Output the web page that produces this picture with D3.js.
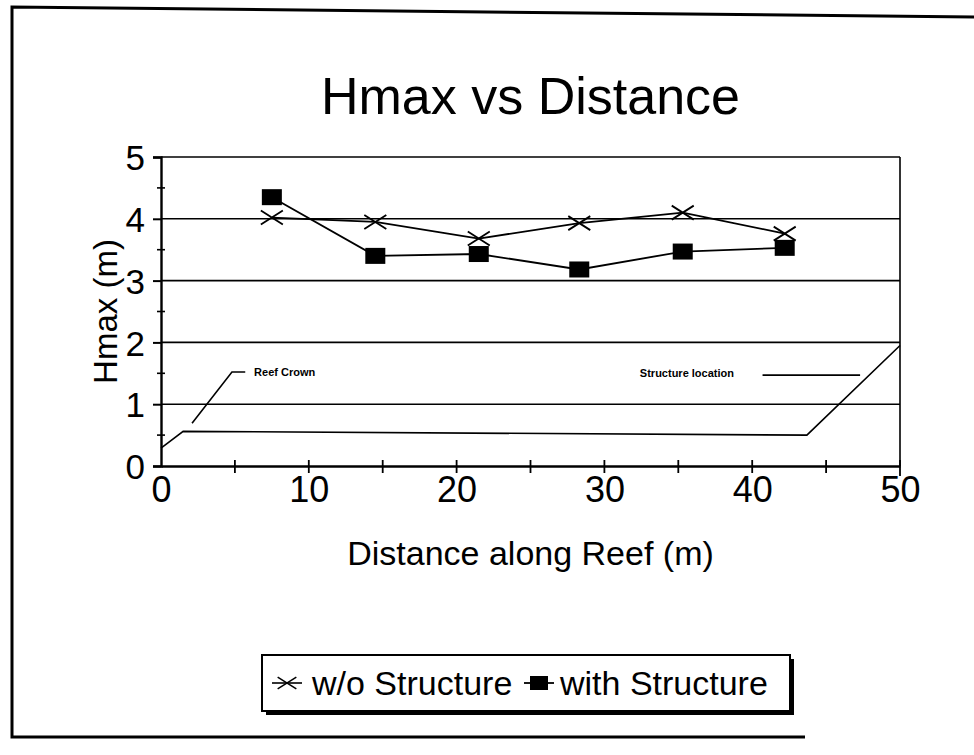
<!DOCTYPE html>
<html>
<head>
<meta charset="utf-8">
<script src="https://cdn.jsdelivr.net/npm/d3@7"></script>
<style>
  body { margin: 0; background: #fff; }
  text { font-family: "Liberation Sans", Arial, sans-serif; fill: #000; }
</style>
</head>
<body>
<div id="chart"></div>
<script>
// distance along reef (m)
var distance = [7.5, 14.5, 21.5, 28.3, 35.3, 42.2];
// Hmax (m)
var withoutStructure = [4.02, 3.95, 3.68, 3.93, 4.10, 3.76];
var withStructure = [4.35, 3.40, 3.43, 3.18, 3.47, 3.53];
// reef profile sketch (distance, height)
var reefX = [0, 1.5, 43.7, 50];
var reefY = [0.29, 0.56, 0.5, 1.95];
var xTicks = [0, 10, 20, 30, 40, 50];
var yTicks = [0, 1, 2, 3, 4, 5];

var W = 974, H = 755;
var mLeft = 161, mRight = 900, mTop = 157, mBottom = 466;

var svg = d3.select('#chart').append('svg')
    .attr('width', W)
    .attr('height', H);

// outer frame (open on the right side, like the scan)
svg.append('path')
    .attr('d', 'M974,17 L12,7 L12,737 L805,737')
    .attr('fill', 'none')
    .attr('stroke', '#000')
    .attr('stroke-width', 3);

var x = d3.scaleLinear().domain([0, 50]).range([mLeft, mRight]);
var y = d3.scaleLinear().domain([0, 5]).range([mBottom, mTop]);

// gridlines
svg.selectAll('.grid')
    .data(yTicks.slice(1))
    .enter()
    .append('line')
    .attr('x1', mLeft)
    .attr('x2', mRight)
    .attr('y1', function (d) { return y(d); })
    .attr('y2', function (d) { return y(d); })
    .attr('stroke', '#000')
    .attr('stroke-width', 1.6);

// right border
svg.append('line')
    .attr('x1', mRight).attr('x2', mRight)
    .attr('y1', mTop).attr('y2', mBottom)
    .attr('stroke', '#000').attr('stroke-width', 1.6);

// y axis
var yAxis = d3.axisLeft(y).tickValues(yTicks).tickFormat(d3.format('d')).tickSize(8).tickPadding(8);
var gy = svg.append('g')
    .attr('transform', 'translate(' + mLeft + ',0)')
    .call(yAxis);
gy.select('.domain').attr('stroke-width', 2.4);
gy.selectAll('.tick line').attr('stroke-width', 2);
gy.selectAll('text')
    .attr('font-size', '35px')
    .attr('font-family', '"Liberation Sans", Arial, sans-serif')
    .attr('dy', '0.36em');

var yMinor = d3.range(0.5, 5, 1);
svg.selectAll('.yminor')
    .data(yMinor)
    .enter()
    .append('line')
    .attr('x1', mLeft - 4).attr('x2', mLeft + 4)
    .attr('y1', function (d) { return y(d); })
    .attr('y2', function (d) { return y(d); })
    .attr('stroke', '#000').attr('stroke-width', 1.6);

// x axis
var xAxis = d3.axisBottom(x).tickValues(xTicks).tickFormat(d3.format('d')).tickSize(0).tickPadding(10);
var gx = svg.append('g')
    .attr('transform', 'translate(0,' + mBottom + ')')
    .call(xAxis);
gx.select('.domain').attr('stroke-width', 2.4);
gx.selectAll('text')
    .attr('font-size', '36px')
    .attr('font-family', '"Liberation Sans", Arial, sans-serif');

var xMinor = d3.range(5, 50, 5);
svg.selectAll('.xminor')
    .data(xMinor)
    .enter()
    .append('line')
    .attr('x1', function (d) { return x(d); })
    .attr('x2', function (d) { return x(d); })
    .attr('y1', mBottom - 6).attr('y2', mBottom + 7)
    .attr('stroke', '#000').attr('stroke-width', 1.8);
svg.append('line')
    .attr('x1', mRight).attr('x2', mRight)
    .attr('y1', mBottom - 6).attr('y2', mBottom + 10)
    .attr('stroke', '#000').attr('stroke-width', 1.8);

// reef profile
var reef = reefX.map(function (d, i) { return [d, reefY[i]]; });
svg.append('path')
    .datum(reef)
    .attr('d', d3.line().x(function (d) { return x(d[0]); }).y(function (d) { return y(d[1]); }))
    .attr('fill', 'none')
    .attr('stroke', '#000')
    .attr('stroke-width', 1.6);

// annotations
svg.append('path')
    .attr('d', 'M' + x(2.1) + ',' + y(0.69) + ' L' + x(4.8) + ',' + y(1.52) + ' L' + x(5.7) + ',' + y(1.52))
    .attr('fill', 'none').attr('stroke', '#000').attr('stroke-width', 1.6);
svg.append('text')
    .attr('x', x(6.3)).attr('y', y(1.52) + 4)
    .attr('font-size', '11px').attr('font-weight', 'bold')
    .text('Reef Crown');
svg.append('text')
    .attr('x', x(32.4)).attr('y', y(1.5) + 4)
    .attr('font-size', '11px').attr('font-weight', 'bold')
    .text('Structure location');
svg.append('line')
    .attr('x1', x(40.7)).attr('x2', x(47.3))
    .attr('y1', y(1.47)).attr('y2', y(1.47))
    .attr('stroke', '#000').attr('stroke-width', 1.6);

// series
var line = d3.line()
    .x(function (d) { return x(d[0]); })
    .y(function (d) { return y(d[1]); });

var s1 = distance.map(function (d, i) { return [d, withoutStructure[i]]; });
var s2 = distance.map(function (d, i) { return [d, withStructure[i]]; });

svg.append('path').datum(s1).attr('d', line)
    .attr('fill', 'none').attr('stroke', '#000').attr('stroke-width', 1.8);
svg.append('path').datum(s2).attr('d', line)
    .attr('fill', 'none').attr('stroke', '#000').attr('stroke-width', 1.8);

var cross = 'M-11,-7 L11,7 M-11,7 L11,-7';
svg.selectAll('.cross')
    .data(s1)
    .enter()
    .append('path')
    .attr('d', cross)
    .attr('transform', function (d) { return 'translate(' + x(d[0]) + ',' + y(d[1]) + ')'; })
    .attr('stroke', '#000').attr('stroke-width', 1.8).attr('fill', 'none');

svg.selectAll('.sq')
    .data(s2)
    .enter()
    .append('rect')
    .attr('x', function (d) { return x(d[0]) - 10; })
    .attr('y', function (d) { return y(d[1]) - 8; })
    .attr('width', 20).attr('height', 16)
    .attr('fill', '#000');

// title and axis labels
svg.append('text')
    .attr('x', (mLeft + mRight) / 2).attr('y', 114)
    .attr('text-anchor', 'middle')
    .attr('font-size', '52px')
    .text('Hmax vs Distance');

svg.append('text')
    .attr('x', (mLeft + mRight) / 2).attr('y', 565)
    .attr('text-anchor', 'middle')
    .attr('font-size', '34px')
    .text('Distance along Reef (m)');

svg.append('text')
    .attr('transform', 'translate(117,' + ((mTop + mBottom) / 2) + ') rotate(-90)')
    .attr('text-anchor', 'middle')
    .attr('font-size', '33px')
    .text('Hmax (m)');

// legend
var lg = svg.append('g').attr('transform', 'translate(262,655)');
lg.append('rect')
    .attr('x', 4).attr('y', 4).attr('width', 528).attr('height', 56)
    .attr('fill', '#000');
lg.append('rect')
    .attr('x', 0).attr('y', 0).attr('width', 528).attr('height', 56)
    .attr('fill', '#fff').attr('stroke', '#000').attr('stroke-width', 2);
lg.append('line').attr('x1', 10).attr('x2', 40).attr('y1', 28).attr('y2', 28)
    .attr('stroke', '#000').attr('stroke-width', 1.6);
lg.append('path').attr('d', cross).attr('transform', 'translate(25,28) scale(0.85)')
    .attr('stroke', '#000').attr('stroke-width', 1.8).attr('fill', 'none');
lg.append('text').attr('x', 50).attr('y', 40).attr('font-size', '34px').text('w/o Structure');
lg.append('line').attr('x1', 262).attr('x2', 292).attr('y1', 28).attr('y2', 28)
    .attr('stroke', '#000').attr('stroke-width', 1.8);
lg.append('rect').attr('x', 268).attr('y', 21).attr('width', 18).attr('height', 14).attr('fill', '#000');
lg.append('text').attr('x', 298).attr('y', 40).attr('font-size', '34px').text('with Structure');
</script>
</body>
</html>
